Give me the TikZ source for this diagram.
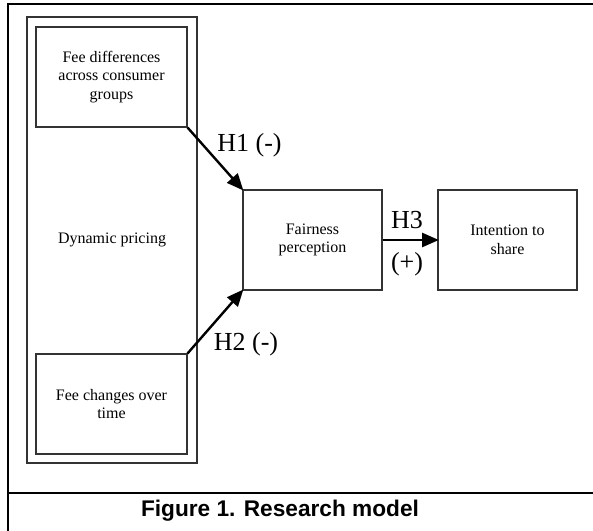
\documentclass[tikz,border=0pt]{standalone}
\usepackage{fontspec}
\setmainfont{Liberation Serif}
\newfontfamily\capfont{Liberation Sans}
\usetikzlibrary{arrows.meta}
\begin{document}
\begin{tikzpicture}[x=0.75pt,y=-0.75pt,
  box/.style={draw=black!80,line width=0.8pt,align=center,inner sep=0pt,
    font=\fontsize{12pt}{14pt}\selectfont,minimum height=75pt},
  lab/.style={inner sep=0pt,font=\fontsize{19.5pt}{22pt}\selectfont},
  conn/.style={line width=1.8pt,-{Triangle[length=12.5pt,width=10.5pt]},shorten >=-1pt}]
\useasboundingbox (0,0) rectangle (593,531);
% outer frame
\draw[line width=1.9pt] (8,531) -- (8,4) -- (594,4);
\draw[line width=1.9pt] (8,493) -- (594,493);
\node[font=\capfont\bfseries\fontsize{17pt}{20pt}\selectfont,inner sep=0pt] (cap) at (280,511) {Figure 1. Research model};
% nodes
\node[box,minimum width=127.5pt,minimum height=334.5pt] (dp) at (112,240) {Dynamic pricing};
\node[box,minimum width=113.25pt] (fd) at (111.5,77) {Fee differences\\across consumer\\groups};
\node[box,minimum width=113.25pt] (fc) at (111.5,404) {Fee changes over\\time};
\node[box,minimum width=104.25pt] (fp) at (312.5,240) {Fairness\\perception};
\node[box,minimum width=104.25pt] (is) at (507.5,240) {Intention to\\share};
% connectors
\draw[conn] (fd.south east) -- (fp.north west);
\draw[conn] (fc.north east) -- (fp.south west);
\draw[conn] (fp.east) -- (is.west);
% labels
\node[lab] (h1) at (249.5,145) {H1 (-)};
\node[lab] (h2) at (246,344) {H2 (-)};
\node[lab] (h3) at (407,220) {H3};
\node[lab] (h3s) at (407,264) {(+)};
\end{tikzpicture}
\end{document}
